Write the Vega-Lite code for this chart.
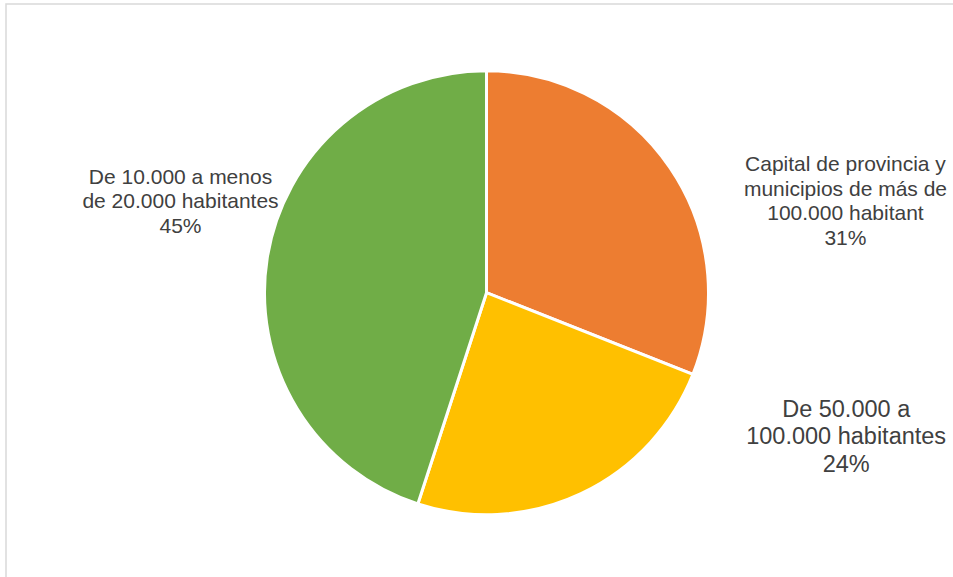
{
  "$schema": "https://vega.github.io/schema/vega-lite/v6.json",
  "width": 950,
  "height": 576,
  "autosize": {"type": "none"},
  "padding": {"left": 6, "top": 4, "right": -3, "bottom": -3},
  "background": "#FFFFFF",
  "config": {
    "view": {"stroke": "#D9D9D9", "strokeWidth": 1.5},
    "text": {"font": "Liberation Sans"}
  },
  "data": {
    "values": [
      {"orden": 1, "categoria": "Capital de provincia y municipios de más de 100.000 habitantes", "valor": 31, "etiqueta": "Capital de provincia y\nmunicipios de más de\n100.000 habitant\n31%"},
      {"orden": 2, "categoria": "De 50.000 a 100.000 habitantes", "valor": 24, "etiqueta": "De 50.000 a\n100.000 habitantes\n24%"},
      {"orden": 3, "categoria": "De 10.000 a menos de 20.000 habitantes", "valor": 45, "etiqueta": "De 10.000 a menos\nde 20.000 habitantes\n45%"}
    ]
  },
  "encoding": {
    "theta": {"field": "valor", "type": "quantitative", "stack": true},
    "order": {"field": "orden", "type": "ordinal"},
    "x": {"value": 480.5},
    "y": {"value": 288.7}
  },
  "layer": [
    {
      "mark": {"type": "arc", "radius": 222, "stroke": "#FFFFFF", "strokeWidth": 3},
      "encoding": {
        "color": {
          "field": "categoria",
          "type": "nominal",
          "scale": {
            "domain": [
              "Capital de provincia y municipios de más de 100.000 habitantes",
              "De 50.000 a 100.000 habitantes",
              "De 10.000 a menos de 20.000 habitantes"
            ],
            "range": ["#ED7D31", "#FFC000", "#70AD47"]
          },
          "legend": null
        }
      }
    },
    {
      "mark": {"type": "text", "radius": 220, "dx": 177, "dy": -3.8, "fontSize": 21, "lineHeight": 24.5, "lineBreak": "\n", "align": "center", "baseline": "middle", "color": "#404040"},
      "encoding": {
        "text": {"condition": {"test": "datum.orden === 1", "field": "etiqueta"}, "value": ""}
      }
    },
    {
      "mark": {"type": "text", "radius": 220, "dx": 266, "dy": -82, "fontSize": 23.5, "lineHeight": 27.5, "lineBreak": "\n", "align": "center", "baseline": "middle", "color": "#404040"},
      "encoding": {
        "text": {"condition": {"test": "datum.orden === 2", "field": "etiqueta"}, "value": ""}
      }
    },
    {
      "mark": {"type": "text", "radius": 220, "dx": -88.7, "dy": -80.3, "fontSize": 21, "lineHeight": 24.5, "lineBreak": "\n", "align": "center", "baseline": "middle", "color": "#404040"},
      "encoding": {
        "text": {"condition": {"test": "datum.orden === 3", "field": "etiqueta"}, "value": ""}
      }
    }
  ]
}
